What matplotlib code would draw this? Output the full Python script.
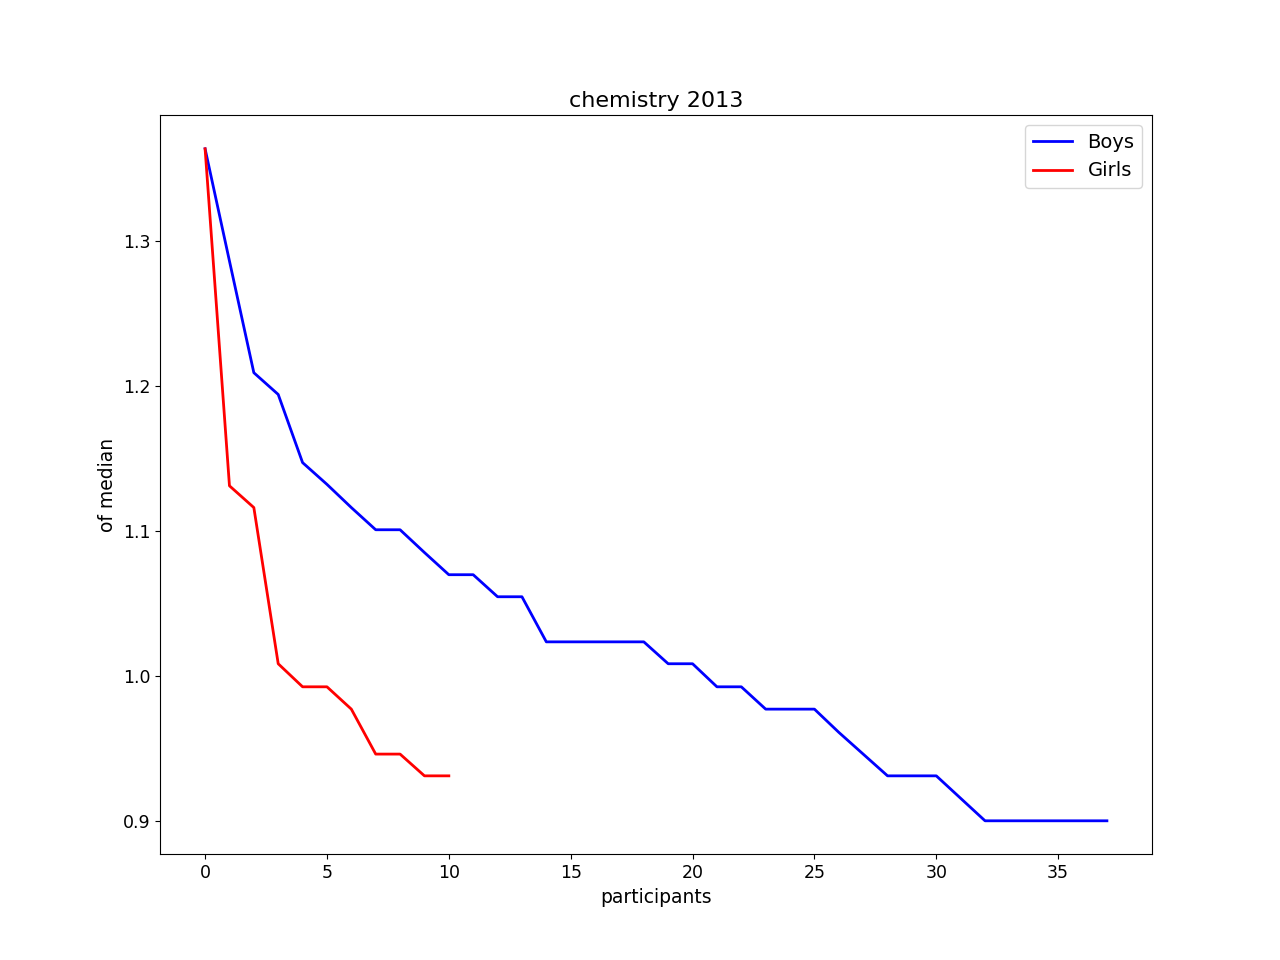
import matplotlib
matplotlib.use("Agg")
import matplotlib.pyplot as plt

boys = [1.3634, 1.286, 1.209, 1.194, 1.147, 1.132, 1.116, 1.1007, 1.1007, 1.085,
        1.0697, 1.0697, 1.0545, 1.0545, 1.0234, 1.0234, 1.0234, 1.0234, 1.0234,
        1.0083, 1.0083, 0.9924, 0.9924, 0.977, 0.977, 0.977, 0.961, 0.946, 0.931,
        0.931, 0.931, 0.9155, 0.9, 0.9, 0.9, 0.9, 0.9, 0.9]
girls = [1.3634, 1.131, 1.116, 1.0083, 0.9924, 0.9924, 0.977, 0.946, 0.946, 0.931, 0.931]

fig = plt.figure(figsize=(12.8, 9.6), dpi=100)
ax = plt.subplot(111)
ax.plot(range(len(boys)), boys, color='blue', label='Boys', linewidth=2)
ax.plot(range(len(girls)), girls, color='red', label='Girls', linewidth=2)
ax.set_title('chemistry 2013', fontsize=16)
ax.set_xlabel('participants', fontsize=13.5)
ax.set_ylabel('of median', fontsize=13.5)
ax.tick_params(labelsize=12.5)
ax.set_yticks([0.9, 1.0, 1.1, 1.2, 1.3])
ax.legend(loc=1, fontsize=14)
fig.savefig('out.png', dpi=100)
